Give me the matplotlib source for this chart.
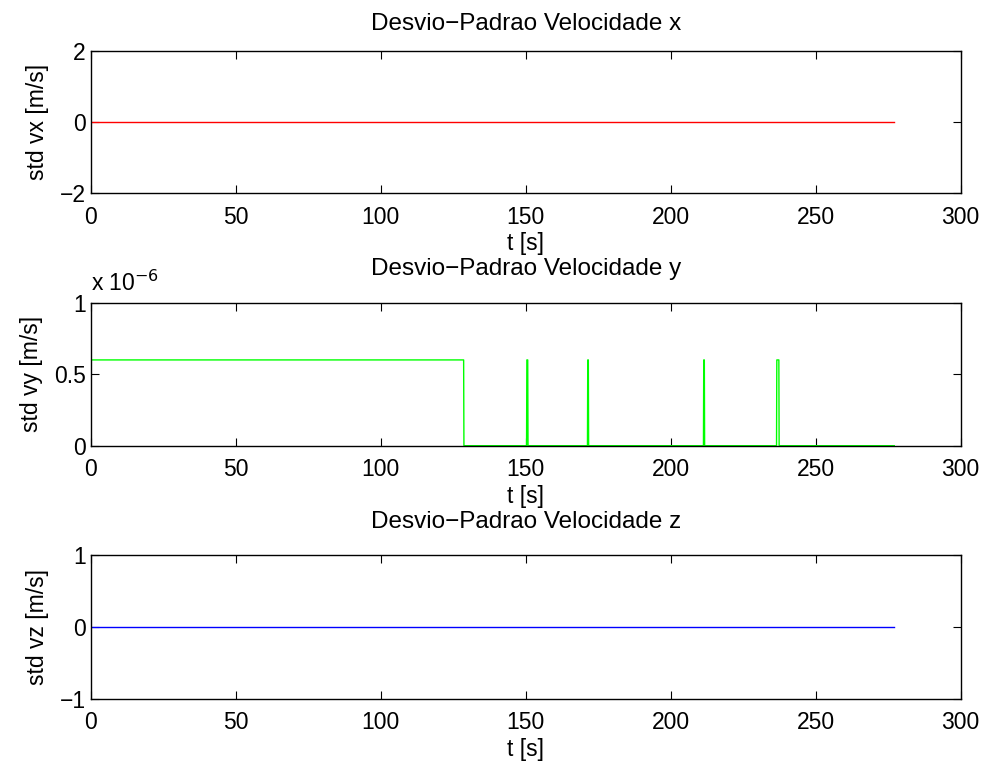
import matplotlib
matplotlib.use("Agg")
import matplotlib.pyplot as plt
from matplotlib.ticker import FuncFormatter

plt.rcParams['font.family'] = ['Liberation Sans', 'DejaVu Sans']
plt.rcParams['font.size'] = 16.5

# velocity std deviations over time
t_x = [0.0, 277.1]
std_vx = [0.0, 0.0]

# vy: constant until ~128.6 s, then zero with short spikes
t_y = [0.0, 128.6, 128.7, 150.3, 150.4, 150.7, 150.8, 171.3, 171.4, 171.6, 171.7,
       211.3, 211.4, 211.6, 211.7, 236.5, 236.6, 237.3, 237.4, 277.1]
std_vy = [0.6e-6, 0.6e-6, 0.0, 0.0, 0.6e-6, 0.6e-6, 0.0, 0.0, 0.6e-6, 0.6e-6, 0.0,
          0.0, 0.6e-6, 0.6e-6, 0.0, 0.0, 0.6e-6, 0.6e-6, 0.0, 0.0]

t_z = [0.0, 277.1]
std_vz = [0.0, 0.0]

x_ticks = [0, 50, 100, 150, 200, 250, 300]

fig = plt.figure(figsize=(9.85, 7.67), dpi=100)
ax1 = fig.add_axes([0.0921, 0.748, 0.8832, 0.1855])
ax2 = fig.add_axes([0.0921, 0.4189, 0.8832, 0.1864])
ax3 = fig.add_axes([0.0921, 0.0887, 0.8832, 0.1873])

ax1.plot(t_x, std_vx, color='r', lw=1.0)
ax1.set_ylim(-2, 2)
ax1.set_yticks([-2, 0, 2])
ax1.set_title("Desvio\u2212Padrao Velocidade x", fontsize=17.5, pad=15)
ax1.set_ylabel("std vx [m/s]", labelpad=8)

ax2.plot(t_y, std_vy, color=(0, 1, 0), lw=1.0)
ax2.set_ylim(0, 1e-6)
ax2.set_yticks([0, 0.5e-6, 1e-6])
ax2.yaxis.set_major_formatter(FuncFormatter(lambda v, p: "%g" % round(v * 1e6, 6)))
ax2.annotate("x 10$^{\u22126}$", xy=(0, 1), xycoords='axes fraction',
             xytext=(0, 5), textcoords='offset points', ha='left', va='bottom')
ax2.set_title("Desvio\u2212Padrao Velocidade y", fontsize=17.5, pad=20)
ax2.set_ylabel("std vy [m/s]", labelpad=8)

ax3.plot(t_z, std_vz, color='b', lw=1.0)
ax3.set_ylim(-1, 1)
ax3.set_yticks([-1, 0, 1])
ax3.set_title("Desvio\u2212Padrao Velocidade z", fontsize=17.5, pad=20)
ax3.set_ylabel("std vz [m/s]", labelpad=8)

for ax in (ax1, ax2, ax3):
    ax.set_xlim(0, 300)
    ax.set_xticks(x_ticks)
    ax.set_xlabel("t [s]", labelpad=2.5)
    ax.tick_params(axis='x', pad=9)
    ax.tick_params(direction='in', top=True, right=True, length=6, width=0.8)
    for s in ax.spines.values():
        s.set_linewidth(1.0)

fig.savefig("out.png", dpi=100, facecolor='white')
